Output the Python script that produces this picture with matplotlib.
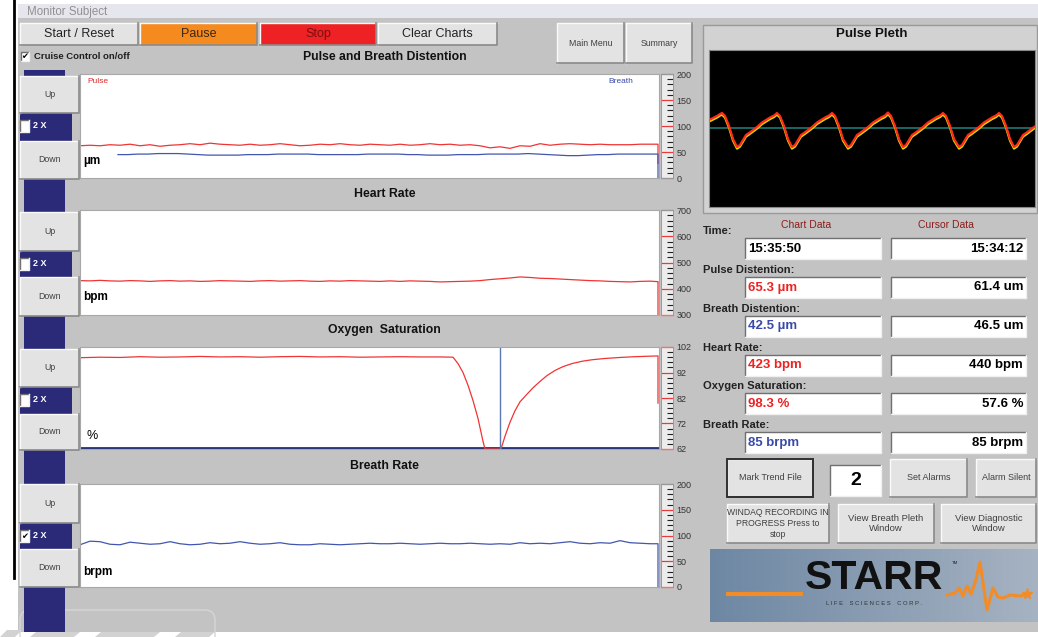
import numpy as np
import matplotlib
matplotlib.use("Agg")
import matplotlib.pyplot as plt
from matplotlib.patches import Rectangle, Polygon, FancyBboxPatch
import matplotlib.transforms as mtransforms

plt.rcParams['font.family'] = ['Liberation Sans', 'DejaVu Sans']

W, H = 1038, 637

# ---- strip chart data (one sample every 10 px of trace, last one is the drop at the right edge)
STEP = 10
END_T = 578

pulse_um = [62, 63, 62, 64, 63, 65, 62, 64, 61, 63, 64, 66, 64, 67, 65, 64, 63, 65, 63, 64,
            66, 64, 62, 63, 65, 64, 66, 64, 63, 65, 64, 63, 65, 63, 64, 66, 64, 65, 63, 64,
            62, 58, 60, 57, 62, 61, 66, 63, 65, 66, 65, 64, 65, 64, 64, 64, 65, 65]
pulse_end = [65, 28]

breath_start = 38
breath_um = [45, 45, 46, 46, 47, 47, 47, 46, 45, 44, 44, 44, 44, 45, 45, 45, 46, 46, 46, 46,
             45, 45, 45, 45, 45, 46, 46, 46, 46, 45, 45, 44, 44, 44, 45, 45, 45, 46, 46, 46,
             46, 47, 46, 45, 44, 43, 43, 44, 45, 45, 46, 46, 46, 46]
breath_end = [46, 0]

heart_bpm = [431, 430, 432, 430, 429, 431, 430, 428, 430, 431, 429, 430, 428, 429, 431, 430,
             429, 428, 430, 431, 429, 430, 431, 429, 428, 430, 429, 431, 430, 429, 428, 430,
             428, 430, 429, 428, 426, 427, 428, 429, 431, 435, 438, 441, 445, 443, 440, 439,
             437, 435, 433, 431, 430, 428, 427, 426, 428, 429]
heart_end = [427, 300]

spo2_t = [0, 20, 40, 60, 80, 100, 120, 140, 160, 180, 200, 220, 240, 260, 280, 300, 320, 340,
          360, 373, 378, 383, 388, 393, 398, 403, 405, 421, 425, 430, 435, 440, 447, 453, 460,
          467, 475, 483, 492, 502, 512, 525, 540, 555, 570, 578, 578]
spo2_pct = [97.8, 98.0, 97.9, 98.2, 98.0, 98.1, 98.3, 98.1, 98.2, 98.0, 98.2, 98.3, 98.1, 98.2,
            98.0, 98.1, 98.2, 98.1, 98.1, 98.0, 95.5, 92.0, 87.0, 81.0, 74.0, 65.0, 62.0, 62.0,
            67.0, 72.5, 77.0, 80.5, 83.5, 86.0, 88.5, 90.8, 92.8, 94.3, 95.5, 96.4, 97.0, 97.5,
            97.9, 98.2, 98.4, 98.5, 80.0]
spo2_cursor_t = 420

breath_brpm = [82, 89, 88, 83, 82, 87, 85, 83, 84, 88, 84, 82, 83, 86, 84, 85, 88, 85, 83, 84,
               86, 83, 82, 82, 84, 83, 82, 83, 84, 85, 84, 84, 85, 84, 83, 84, 85, 84, 84, 85,
               84, 83, 84, 83, 86, 84, 85, 84, 86, 88, 85, 84, 86, 85, 90, 86, 85, 84]
breath_rate_end = [84, 0]

# pulse pleth trace (x in px of the pleth window, value relative to the baseline)
pleth_x = [0, 4, 8, 11, 13, 16, 20, 24, 28,
           31, 34, 37, 40, 44, 48, 53, 57, 61, 65, 68, 71, 75, 79, 83,
           86, 89, 92, 95, 99, 103, 108, 112, 116, 120, 123, 126, 130, 134, 139,
           142, 145, 148, 151, 155, 159, 164, 168, 172, 176, 179, 182, 186, 190, 194,
           197, 200, 203, 206, 210, 214, 219, 223, 227, 231, 234, 237, 241, 245, 250,
           253, 256, 259, 262, 266, 270, 275, 279, 283, 287, 290, 293, 297, 301, 305,
           308, 311, 314, 317, 321, 325, 327]
pleth_v = [8, 10, 12, 14, 15, 12, 2, -11, -19,
           -17, -12, -7, -5, -2, 1, 5.5, 8, 10.5, 12.5, 15, 12, 2, -11, -19,
           -17, -12, -7, -5, -2, 1, 5.5, 8, 10.5, 12.5, 15, 12, 2, -11, -19,
           -17, -12, -7, -5, -2, 1, 5.5, 8, 10.5, 12.5, 15.5, 12, 2, -11, -19,
           -17, -12, -7, -5, -2, 1, 5.5, 8, 10.5, 12.5, 15, 12, 2, -11, -19,
           -17, -12, -7, -5, -2, 1, 5.5, 8, 10.5, 12.5, 15, 12, 2, -11, -19,
           -17, -12, -7, -5, -2, 1, 2]

# ---- readouts
readout_labels = ["Pulse Distention:", "Breath Distention:", "Heart Rate:",
                  "Oxygen Saturation:", "Breath Rate:"]
chart_values = ["65.3 \u00b5m", "42.5 \u00b5m", "423 bpm", "98.3 %", "85 brpm"]
chart_colors = ["#ee2222", "#3a4aa8", "#ee2222", "#ee2222", "#3a4aa8"]
cursor_values = ["61.4 um", "46.5 um", "440 bpm", "57.6 %", "85 brpm"]
time_chart = "15:35:50"
time_cursor = "15:34:12"

logo_ecg_x = [947, 955, 959, 963, 967, 971, 975, 980, 987, 993, 998, 1003, 1010, 1020, 1027]
logo_ecg_y = [595, 593, 588, 596, 586, 594, 583, 562, 610, 588, 597, 598, 595, 596, 594]

PANEL = '#c3c3c3'
NAVY = '#2a2a78'
BTN = '#e3e3e3'

fig = plt.figure(figsize=(W / 100, H / 100), dpi=100)
ui = fig.add_axes([0, 0, 1, 1])
ui.set_autoscale_on(False)
ui.set_xlim(0, W)
ui.set_ylim(H, 0)
ui.axis('off')


def px_axes(x0, y0, x1, y1):
    return fig.add_axes([x0 / W, 1 - y1 / H, (x1 - x0) / W, (y1 - y0) / H])


def box(x0, y0, x1, y1, fc, ec=None, lw=0, z=1):
    ui.add_patch(Rectangle((x0, y0), x1 - x0, y1 - y0, facecolor=fc,
                           edgecolor=ec if ec else fc, linewidth=lw, zorder=z))


def button(x0, y0, x1, y1, label, fc=BTN, size=6.5, color='#404040', z=3, border=None):
    box(x0, y0, x1, y1, fc, z=z)
    ui.plot([x0, x0, x1], [y1, y0, y0], color='#fafafa', lw=1, zorder=z + 0.1)
    ui.plot([x0, x1, x1], [y1, y1, y0], color='#8a8a8a', lw=1.2, zorder=z + 0.1)
    if border:
        box(x0, y0, x1, y1, 'none', ec=border, lw=1.4, z=z + 0.2)
    ui.text((x0 + x1) / 2, (y0 + y1) / 2, label, ha='center', va='center',
            fontsize=size, color=color, zorder=z + 0.3, linespacing=1.25)


def field(x0, y0, x1, y1, z=3):
    box(x0, y0, x1, y1, 'white', z=z)
    ui.plot([x0, x0, x1], [y1, y0, y0], color='#707070', lw=1, zorder=z + 0.1)
    ui.plot([x0, x1, x1], [y1, y1, y0], color='#f0f0f0', lw=1, zorder=z + 0.1)


# ---- background / frame
box(0, 0, W, H, 'white', z=0)
box(18, 4, W, 632, PANEL, z=0.5)
box(18, 4, W, 18, '#e6e6ee', z=0.6)
ui.text(27, 11.5, "Monitor Subject", fontsize=8.3, color='#909090', va='center', zorder=2)
ui.plot([14, 14], [0, 578], color='black', lw=2, zorder=2)
# faint leftovers of the window behind
ui.add_patch(FancyBboxPatch((20, 610), 195, 40, boxstyle="round,pad=0,rounding_size=10",
                            facecolor='none', edgecolor='#d6d6d6', lw=1, zorder=0.8))
for pts in ([[0, 637], [7, 630], [22, 630], [15, 637]],
            [[30, 637], [36, 632], [80, 632], [74, 637]],
            [[95, 637], [101, 632], [160, 632], [154, 637]],
            [[175, 637], [181, 632], [215, 632], [209, 637]]):
    ui.add_patch(Polygon(pts, closed=True, facecolor='#d2d2d2', edgecolor='none', zorder=0.8))

# ---- top buttons
button(20, 23, 138, 45, "Start / Reset", size=9, color='#222222')
button(140, 23, 257, 45, "Pause", fc='#f58a1f', size=9, color='#3a2814')
button(260, 23, 376, 45, "Stop", fc='#ee2124', size=9, color='#7a1010')
button(378, 23, 497, 45, "Clear Charts", size=9, color='#222222')
button(557, 23, 624, 63, "Main Menu", size=6.3)
button(626, 23, 692, 63, "Summary", size=6.3)

field(21, 52, 29, 61)
ui.text(25, 56.5, "\u2714", fontsize=6, ha='center', va='center', family='DejaVu Sans', zorder=4)
ui.text(34, 56.5, "Cruise Control on/off", fontsize=6.8, weight='bold', color='#202020',
        va='center', zorder=4)

# ---- left column navy strip
box(24, 70, 65, 632, NAVY, z=1)

chart_layout = [
    # title, title y, plot top, plot bottom, up / 2x / down split points, checked
    ("Pulse and Breath Distention", 57, 74, 178, (76, 113, 141, 179), False),
    ("Heart Rate", 194, 210, 315, (212, 251, 277, 316), False),
    ("Oxygen  Saturation", 330, 347, 449, (349, 387, 414, 450), False),
    ("Breath Rate", 466, 484, 587, (484, 523, 549, 587), True),
]
axes = []
scale_spec = [(0, 200, 50, 10), (300, 700, 100, 20), (62, 102, 10, 2), (0, 200, 50, 10)]

for (title, ty, py0, py1, split, checked), (lo, hi, major, minor) in zip(chart_layout, scale_spec):
    ui.text(384.5, ty, title, fontsize=8.8, weight='bold', ha='center', va='center',
            color='#111111', zorder=4)
    u0, u1, d0, d1 = split
    button(20, u0, 79, u1, "Up", size=6.3)
    box(20, u1, 72, d0, NAVY, z=2)
    field(20, u1 + 7, 29, u1 + 19)
    if checked:
        ui.text(24.5, u1 + 13, "\u2714", fontsize=6, ha='center', va='center',
                family='DejaVu Sans', zorder=4)
    ui.text(33, u1 + 13, "2 X", fontsize=6.5, color='white', weight='bold', va='center', zorder=4)
    button(20, d0, 79, d1, "Down", size=6.3)

    ax = px_axes(80, py0, 659, py1)
    ax.set_xlim(0, 579)
    ax.set_ylim(lo, hi)
    ax.set_xticks([])
    ax.set_yticks([])
    for s in ax.spines.values():
        s.set_color('#a8a8a8')
        s.set_linewidth(0.8)

    sc = px_axes(661, py0, 673, py1)
    sc.set_facecolor('#ececec')
    sc.set_xlim(0, 1)
    sc.set_ylim(lo, hi)
    sc.set_xticks([])
    sc.yaxis.tick_right()
    sc.set_yticks(np.arange(lo, hi + 0.01, major))
    sc.set_yticks(np.arange(lo, hi + 0.01, minor), minor=True)
    sc.tick_params(axis='y', which='major', direction='in', length=8.6, width=0.9,
                   color='#e83a3a', labelsize=6.5, labelcolor='#333333', pad=2.5)
    sc.tick_params(axis='y', which='minor', direction='in', length=4.3, width=0.8,
                   color='#222222')
    for s in sc.spines.values():
        s.set_color('#9a9a9a')
        s.set_linewidth(0.7)
    axes.append(ax)

RED = '#f03434'
BLUE = '#4256b0'

ax1, ax2, ax3, ax4 = axes
t = np.arange(len(pulse_um)) * STEP
ax1.plot(np.r_[t, END_T, END_T], np.r_[pulse_um, pulse_end], color=RED, lw=0.9)
tb = breath_start + np.arange(len(breath_um)) * STEP
ax1.plot(np.r_[tb, END_T, END_T], np.r_[breath_um, breath_end], color=BLUE, lw=0.9)
ax1.text(0.013, 0.93, "Pulse", transform=ax1.transAxes, fontsize=6, color='#e02a2a', va='center')
ax1.text(0.912, 0.93, "Breath", transform=ax1.transAxes, fontsize=6, color='#3a4aa8', va='center')
ax1.text(0.005, 0.16, "\u00b5m", transform=ax1.transAxes, fontsize=8.5, weight='bold', va='center')

t = np.arange(len(heart_bpm)) * STEP
ax2.plot(np.r_[t, END_T, END_T], np.r_[heart_bpm, heart_end], color=RED, lw=0.9)
ax2.text(0.005, 0.17, "bpm", transform=ax2.transAxes, fontsize=8.5, weight='bold', va='center')

ax3.axhline(62.3, color='#23307a', lw=2)
ax3.plot(spo2_t, spo2_pct, color=RED, lw=0.9)
ax3.axvline(spo2_cursor_t, color='#5a78b0', lw=1)
ax3.text(0.012, 0.13, "%", transform=ax3.transAxes, fontsize=9, va='center')

t = np.arange(len(breath_brpm)) * STEP
ax4.plot(np.r_[t, END_T, END_T], np.r_[breath_brpm, breath_rate_end], color=BLUE, lw=0.9)
ax4.text(0.005, 0.15, "brpm", transform=ax4.transAxes, fontsize=8.5, weight='bold', va='center')

# ---- pulse pleth window
box(703, 25, 1037, 213, '#d2d2d2', ec='#9a9a9a', lw=1, z=2)
ui.text(872, 34, "Pulse Pleth", fontsize=9.5, weight='bold', ha='center', va='center',
        color='#111111', zorder=4)
pa = px_axes(709, 50, 1035, 207)
pa.set_facecolor('black')
pa.set_xlim(0, 326)
pa.set_ylim(-79, 78)
pa.set_xticks([])
pa.set_yticks([])
for s in pa.spines.values():
    s.set_color('#888888')
pa.axhline(0, color='#1c7a78', lw=1.2)
shadow = mtransforms.offset_copy(pa.transData, fig=fig, x=0, y=-1.6, units='dots')
pa.plot(pleth_x, pleth_v, color='#e6dc00', lw=1.6, transform=shadow)
pa.plot(pleth_x, pleth_v, color='#ff2a1a', lw=1.6)

# ---- readouts
ui.text(703, 231, "Time:", fontsize=8, weight='bold', color='#222222', va='center', zorder=4)
ui.text(806, 225, "Chart Data", fontsize=7.5, color='#8b1c1c', ha='center', va='center', zorder=4)
ui.text(946, 225, "Cursor Data", fontsize=7.5, color='#8b1c1c', ha='center', va='center', zorder=4)
field(745, 238, 881, 259)
field(891, 238, 1026, 259)
ui.text(748, 248.5, time_chart, fontsize=9.5, weight='bold', va='center', zorder=4)
ui.text(1023, 248.5, time_cursor, fontsize=9.5, weight='bold', ha='right', va='center', zorder=4)

for i, (lab, cv, cc, kv) in enumerate(zip(readout_labels, chart_values, chart_colors, cursor_values)):
    y0 = 277 + i * 38.8
    ui.text(703, y0 - 7, lab, fontsize=8, weight='bold', color='#222222', va='center', zorder=4)
    field(745, y0, 881, y0 + 21)
    field(891, y0, 1026, y0 + 21)
    ui.text(748, y0 + 10.5, cv, fontsize=9.5, weight='bold', color=cc, va='center', zorder=4)
    ui.text(1023, y0 + 10.5, kv, fontsize=9.5, weight='bold', ha='right', va='center', zorder=4)

# ---- bottom right buttons
button(727, 459, 813, 497, "Mark Trend File", size=6.5, border='#303030')
field(830, 465, 881, 496)
ui.text(855.5, 480.5, "2", fontsize=14, weight='bold', ha='center', va='center', zorder=4)
button(890, 459, 967, 497, "Set Alarms", size=6.5)
button(976, 459, 1036, 497, "Alarm Silent", size=6.5)
button(727, 504, 829, 543, "WINDAQ RECORDING IN\nPROGRESS Press to\nstop", size=6.2)
button(838, 504, 934, 543, "View Breath Pleth\nWindow", size=6.8)
button(941, 504, 1036, 543, "View Diagnostic\nWindow", size=6.8)

# ---- STARR logo
left = np.array([0.43, 0.53, 0.64])
right = np.array([0.65, 0.70, 0.76])
grad = np.linspace(left, right, 60)[None, :, :].repeat(2, axis=0)
ui.imshow(grad, extent=(710, 1038, 622, 549), aspect='auto', zorder=2, interpolation='bilinear')
ui.plot([726, 803], [594, 594], color='#f28c28', lw=3, zorder=3, solid_capstyle='butt')
ui.plot(logo_ecg_x, logo_ecg_y, color='#f28c28', lw=2.2, zorder=3)
ui.plot([1027], [594], marker='*', color='#f28c28', ms=8, zorder=3)
ui.text(874.5, 578, "STARR", fontsize=29.5, weight='bold', ha='center', va='center',
        color='#111111', zorder=4)
ui.text(952, 563, "TM", fontsize=3.2, color='#222222', va='center', zorder=4)
ui.text(874, 603.5, "L I F E    S C I E N C E S    C O R P .", fontsize=4.2, ha='center',
        va='center', color='#333333', zorder=4)

fig.savefig("out.png", dpi=100)
